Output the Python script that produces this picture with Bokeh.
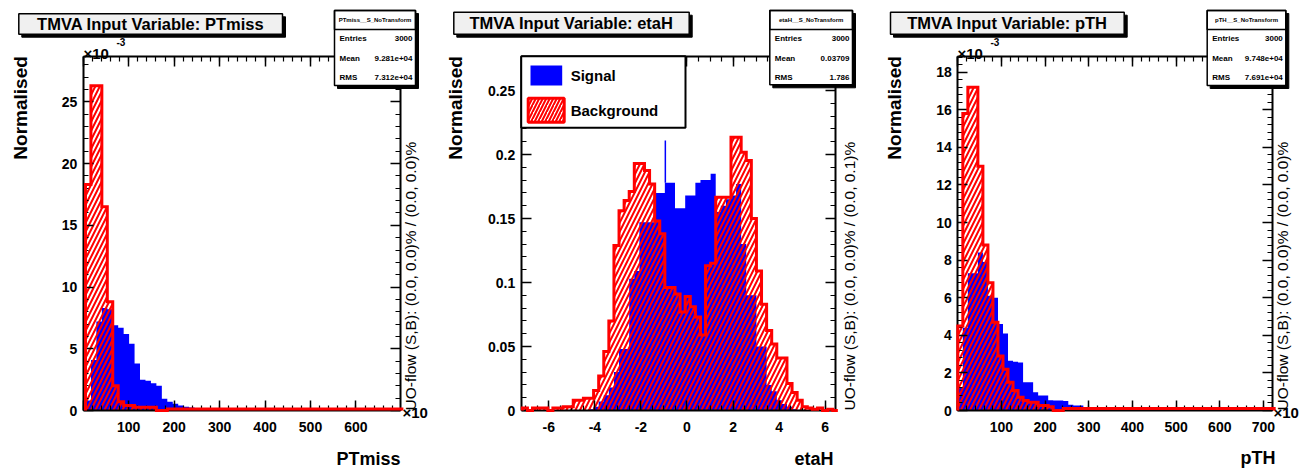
import numpy as np
from bokeh.plotting import figure
from bokeh.layouts import row
from bokeh.models import (Range1d, LinearAxis, SingleIntervalTicker,
                          CustomJSTickFormatter, Label, BoxAnnotation)
from bokeh.embed import file_html
from bokeh.resources import INLINE

FONT = "Liberation Sans"

# ---------------- data: PTmiss (values x 1e-3) ----------------
pt_bin_start = 5.0
pt_bin_width = 12.0
pt_signal = [0.8, 4.1, 7.2, 8.3, 8.2, 6.9, 6.7, 6.2, 5.4, 3.8,
             2.5, 2.4, 2.2, 2.0, 0.95, 0.7, 0.55, 0.4, 0.3, 0.25,
             0.1, 0.05, 0.05, 0.0, 0.0, 0.0, 0.0, 0.0, 0.0, 0.0,
             0.0, 0.0, 0.0, 0.0, 0.0, 0.0, 0.0, 0.0, 0.0, 0.0,
             0.0, 0.0, 0.0, 0.0, 0.0, 0.0, 0.0, 0.0, 0.0, 0.0,
             0.0, 0.0, 0.0, 0.0, 0.0, 0.0, 0.0, 0.0]
pt_background = [18.3, 26.3, 26.3, 16.5, 8.8, 2.0, 0.7, 0.4, 0.4, 0.27,
                 0.27, 0.27, 0.27, 0.0, 0.0, 0.13, 0.13, 0.13, 0.13, 0.13,
                 0.13, 0.13, 0.13, 0.13, 0.13, 0.13, 0.13, 0.13, 0.13, 0.13,
                 0.13, 0.13, 0.13, 0.13, 0.13, 0.13, 0.13, 0.13, 0.13, 0.13,
                 0.13, 0.13, 0.13, 0.13, 0.13, 0.13, 0.13, 0.13, 0.13, 0.13,
                 0.13, 0.13, 0.13, 0.13, 0.13, 0.13, 0.13, 0.13]

# ---------------- data: etaH ----------------
eta_bin_start = -7.15
eta_bin_width = 0.221
eta_signal = [0, 0, 0, 0, 0, 0, 0, 0, 0, 0,
              0, 0, 0, 0.001, 0.003, 0.007, 0.012, 0.018, 0.030, 0.048,
              0.048, 0.103, 0.109, 0.147, 0.147, 0.147, 0.170, 0.170, 0.178, 0.178,
              0.158, 0.158, 0.168, 0.168, 0.178, 0.180, 0.180, 0.185, 0.155, 0.160,
              0.165, 0.168, 0.177, 0.130, 0.090, 0.090, 0.050, 0.050, 0.020, 0.015,
              0.008, 0.005, 0.003, 0.001, 0, 0, 0, 0, 0, 0,
              0, 0]
eta_background = [0.002, 0, 0.002, 0.002, 0.002, 0, 0.002, 0.002, 0.003, 0.003,
                  0.008, 0.008, 0.0096, 0.0096, 0.0156, 0.027, 0.046, 0.070, 0.129, 0.156,
                  0.164, 0.171, 0.193, 0.193, 0.1875, 0.177, 0.148, 0.138, 0.096, 0.096,
                  0.091, 0.077, 0.089, 0.081, 0.073, 0.059, 0.113, 0.115, 0.1667, 0.1667,
                  0.1667, 0.2135, 0.2135, 0.2018, 0.1953, 0.150, 0.109, 0.083, 0.0625, 0.052,
                  0.041, 0.041, 0.021, 0.014, 0.008, 0.003, 0.002, 0.001, 0.002, 0,
                  0.001, 0]
eta_spike_x = [-0.94]
eta_spike_low = [0.178]
eta_spike_top = [0.211]

# ---------------- data: pTH (values x 1e-3) ----------------
pth_bin_start = 0.0
pth_bin_width = 11.5
pth_signal = [1.2, 4.4, 7.3, 7.3, 8.4, 7.9, 6.1, 6.0, 4.6, 4.1,
              2.65, 2.6, 2.55, 1.5, 1.5, 0.97, 0.8, 0.8, 0.55, 0.53,
              0.53, 0.5, 0.3, 0.27, 0.27, 0.15, 0.1, 0.05, 0.05, 0.0,
              0.0, 0.0, 0.0, 0.0, 0.0, 0.0, 0.0, 0.0, 0.0, 0.0,
              0.0, 0.0, 0.0, 0.0, 0.0, 0.0, 0.0, 0.0, 0.0, 0.0,
              0.0, 0.0, 0.0, 0.0, 0.0, 0.0, 0.0, 0.0, 0.0, 0.0,
              0.0, 0.0, 0.0]
pth_background = [4.5, 15.8, 17.2, 17.2, 13.0, 8.8, 6.8, 4.7, 2.9, 2.2,
                  1.5, 1.06, 0.71, 0.53, 0.44, 0.44, 0.27, 0.27, 0.2, 0.0,
                  0.0, 0.1, 0.1, 0.1, 0.1, 0.1, 0.1, 0.1, 0.1, 0.1,
                  0.1, 0.1, 0.1, 0.1, 0.1, 0.1, 0.1, 0.1, 0.1, 0.1,
                  0.1, 0.1, 0.1, 0.1, 0.1, 0.1, 0.1, 0.1, 0.1, 0.1,
                  0.1, 0.1, 0.1, 0.1, 0.1, 0.1, 0.1, 0.1, 0.1, 0.1,
                  0.1, 0.1, 0.1]

titles = ["TMVA Input Variable: PTmiss", "TMVA Input Variable: etaH", "TMVA Input Variable: pTH"]
x_titles = ["PTmiss", "etaH", "pTH"]
stat_names = ["PTmiss__S_NoTransform", "etaH__S_NoTransform", "pTH__S_NoTransform"]
stat_entries = ["3000", "3000", "3000"]
stat_means = ["9.281e+04", "0.03709", "9.748e+04"]
stat_rms = ["7.312e+04", "1.786", "7.691e+04"]
uo_texts = ["UO-flow (S,B): (0.0, 0.0)% / (0.0, 0.0)%",
            "UO-flow (S,B): (0.0, 0.0)% / (0.0, 0.1)%",
            "UO-flow (S,B): (0.0, 0.0)% / (0.0, 0.0)%"]
legend_labels = ["Signal", "Background"]

W, H = 435, 472


def hist_path(start, width, values):
    n = len(values)
    edges = start + width * np.arange(n + 1)
    xs = np.repeat(edges, 2)
    ys = np.concatenate([[0.0], np.repeat(np.asarray(values, float), 2), [0.0]])
    return xs, ys


def lab(p, x, y, text, size, bold=True, align="left", baseline="middle", angle=0.0):
    # x from panel left, y from panel top
    p.add_layout(Label(x=x, y=H - y, x_units="screen", y_units="screen", text=text,
                       text_font=FONT, text_font_size=size,
                       text_font_style="bold" if bold else "normal",
                       text_align=align, text_baseline=baseline, angle=angle,
                       text_color="black"))


def box(p, l, r, t, b, fill="white", line="black", lw=1.5, **kw):
    # l, r from panel left; t, b from panel top
    p.add_layout(BoxAnnotation(left=l, right=r, bottom=H - b, top=H - t,
                               left_units="screen", right_units="screen",
                               bottom_units="screen", top_units="screen",
                               fill_color=fill if fill else "white",
                               fill_alpha=1.0 if fill else 0.0,
                               line_color=line if line else "black",
                               line_alpha=1.0 if line else 0.0,
                               line_width=lw, **kw))


def make_panel(i, start, width, sig, bkg, xr, yr, xint, xminor, yint, yminor,
               frame, xfmt, yfmt, title_box, stat_box, ytitle_x, xtitle_pos, uo_x,
               xexp=None, yexp=None, legend=None):
    L, R, T, B = frame
    x0, x1 = xr
    y0, y1 = yr
    kx = (x1 - x0) / (R - L)
    ky = (y1 - y0) / (B - T)
    p = figure(width=W, height=H, output_backend="svg", toolbar_location=None,
               x_range=Range1d(x0 - L * kx, x1 + (W - R) * kx),
               y_range=Range1d(y0 - (H - B) * ky, y1 + T * ky),
               x_axis_location=None, y_axis_location=None,
               min_border=0, min_border_left=0, min_border_right=0,
               min_border_top=0, min_border_bottom=0,
               background_fill_color="white", border_fill_color="white")
    p.grid.visible = False
    p.outline_line_color = None

    xt = SingleIntervalTicker(interval=xint, num_minor_ticks=xminor)
    yt = SingleIntervalTicker(interval=yint, num_minor_ticks=yminor)

    sx, sy = hist_path(start, width, sig)
    bx, by = hist_path(start, width, bkg)
    p.patch(sx, sy, fill_color="#0000ff", line_color=None)
    p.patch(bx, by, fill_alpha=0.0, line_color=None, hatch_pattern="/",
            hatch_color="#ff0000", hatch_scale=9, hatch_weight=2.0)
    if legend:
        p.segment(x0=eta_spike_x, y0=eta_spike_low, x1=eta_spike_x, y1=eta_spike_top,
                  line_color="#0000ff", line_width=1.5)

    axes = [
        LinearAxis(ticker=xt, fixed_location=y0, bounds=(x0, x1),
                   formatter=CustomJSTickFormatter(code=xfmt)),
        LinearAxis(ticker=yt, fixed_location=x0, bounds=(y0, y1),
                   formatter=CustomJSTickFormatter(code=yfmt)),
        LinearAxis(ticker=xt, fixed_location=y1, bounds=(x0, x1),
                   major_label_text_color=None),
        LinearAxis(ticker=yt, fixed_location=x1, bounds=(y0, y1),
                   major_label_text_color=None),
    ]
    sides = ["below", "left", "above", "right"]
    for ax, side in zip(axes, sides):
        ax.axis_line_width = 2
        ax.axis_line_color = "black"
        ax.major_tick_in = 10
        ax.major_tick_out = 0
        ax.minor_tick_in = 5
        ax.minor_tick_out = 0
        ax.major_tick_line_width = 1.5
        ax.minor_tick_line_width = 1.2
        ax.major_tick_line_color = "black"
        ax.minor_tick_line_color = "black"
        ax.major_label_text_font = FONT
        ax.major_label_text_font_style = "bold"
        ax.major_label_text_font_size = "14px"
        p.add_layout(ax, side)
    axes[0].major_label_standoff = 11
    axes[1].major_label_standoff = 6
    axes[0].major_label_text_color = "black"
    axes[1].major_label_text_color = "black"

    p.line(bx, by, line_color="#ff0000", line_width=3, line_join="miter", level="overlay")

    # axis titles and side texts
    lab(p, ytitle_x, T, "Normalised", "19px", align="right", baseline="middle", angle=np.pi / 2)
    lab(p, xtitle_pos[0], xtitle_pos[1], x_titles[i], "18px", align="right", baseline="middle")
    lab(p, uo_x, B, uo_texts[i], "15.5px", bold=False, align="left", baseline="middle", angle=np.pi / 2)
    if xexp:
        lab(p, xexp[0], xexp[1], "\u00d710", "15px", align="left", baseline="alphabetic")
    if yexp:
        lab(p, yexp[0] + 33, yexp[1] - 12, "-3", "10px", align="left", baseline="alphabetic")
        lab(p, yexp[0], yexp[1], "\u00d710", "15px", align="left", baseline="alphabetic")

    # title box with shadow
    l, r, t, b = title_box
    box(p, l + 3, r + 3, t + 3, b + 3, fill="black", line="black", lw=1)
    box(p, l, r, t, b, fill="#f0f0f0", line="black", lw=1.5)
    lab(p, (l + r) / 2, (t + b) / 2, titles[i], "16.5px", align="center", baseline="middle")

    # statistics box with shadow
    l, r, t, b = stat_box
    box(p, l + 3, r + 3, t + 3, b + 3, fill="black", line="black", lw=1)
    box(p, l, r, t, b, fill="white", line="black", lw=1.5)
    box(p, l, r, t, t + 19, fill=None, line="black", lw=1.5)
    lab(p, (l + r) / 2, t + 9.5, stat_names[i], "6px", align="center")
    rows = [("Entries", stat_entries[i]), ("Mean", stat_means[i]), ("RMS", stat_rms[i])]
    for k, (nm, vv) in enumerate(rows):
        yy = t + 28 + k * 19.5
        lab(p, l + 5, yy, nm, "8px", align="left")
        lab(p, r - 3, yy, vv, "8px", align="right")

    if legend:
        bl, br, bt, bb = legend
        box(p, bl, br, bt, bb, fill="white", line="black", lw=2)
        box(p, bl + 9.3, bl + 41, bt + 9.3, bt + 29.3, fill="#0000ff", line=None, lw=0)
        box(p, bl + 7, bl + 43, bt + 42, bt + 66, fill="white", line="#ff0000", lw=3,
            hatch_pattern="/", hatch_color="#ff0000", hatch_scale=7, hatch_weight=2)
        lab(p, bl + 49.5, bt + 19.5, legend_labels[0], "15px", align="left")
        lab(p, bl + 49.5, bt + 54, legend_labels[1], "15px", align="left")
    return p


fmt_hide0 = "return Math.abs(tick) < 1e-9 ? '' : Number(tick.toFixed(0)).toString();"
fmt_int = "return Number(tick.toFixed(0)).toString();"
fmt_dec = "return Number(tick.toFixed(3)).toString();"

p1 = make_panel(0, pt_bin_start, pt_bin_width, pt_signal, pt_background,
                (0, 698), (0, 28.7), 100, 5, 5, 5,
                (82.7, 400, 55.7, 410), fmt_hide0, fmt_int,
                (18.3, 282, 13.3, 33.7), (334, 415, 10, 85), 20, (400, 458), 410,
                xexp=(402, 412), yexp=(83, 53))
p2 = make_panel(1, eta_bin_start, eta_bin_width, eta_signal, eta_background,
                (-7.2, 6.45), (0, 0.2768), 2, 4, 0.05, 5,
                (85.7, 400, 55.7, 410), fmt_int, fmt_dec,
                (18.3, 253.7, 11.7, 33.7), (334.3, 417, 10, 84.3), 20, (398, 458), 414,
                legend=(85.7, 250, 55.7, 127.3))
p3 = make_panel(2, pth_bin_start, pth_bin_width, pth_signal, pth_background,
                (0, 720), (0, 18.85), 100, 5, 2, 5,
                (87.3, 401.7, 55.7, 410), fmt_hide0, fmt_int,
                (20, 253.7, 11.7, 33.7), (336.7, 415.3, 10, 85), 24, (405, 457), 412,
                xexp=(403, 412), yexp=(87, 53))

layout = row(p1, p2, p3, spacing=0)
open("out.html", "w").write(file_html(layout, INLINE))
